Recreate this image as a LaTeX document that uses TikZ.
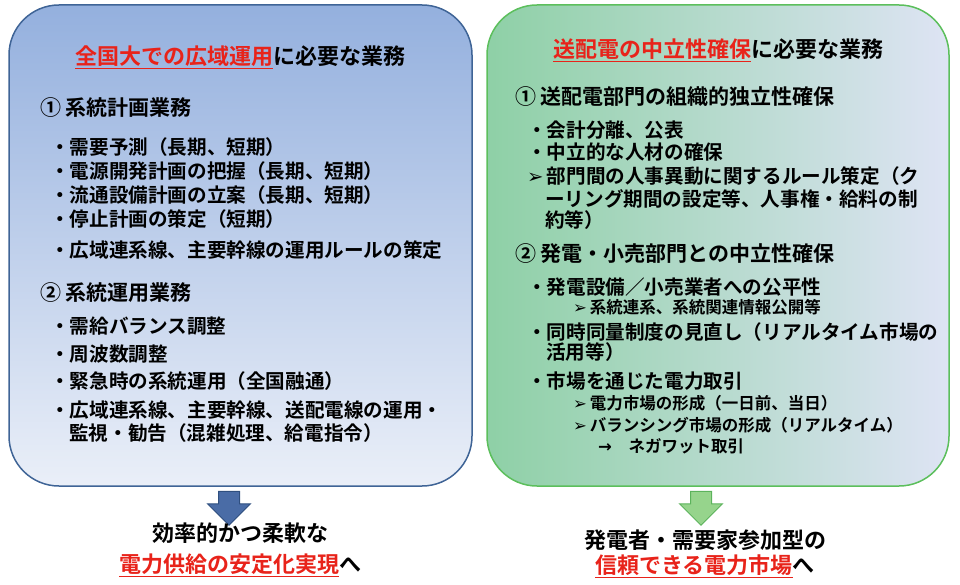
\documentclass[tikz,border=0pt]{standalone}
\usepackage{fontspec}
\setmainfont{Noto Sans CJK JP}[BoldFont={* Bold}]
\newfontfamily\dv{DejaVu Sans}
\usetikzlibrary{shapes.arrows}
\definecolor{rd}{HTML}{E8231A}
\definecolor{lb}{HTML}{3F6496}
\definecolor{gb}{HTML}{5CBF5C}
\newcommand{\rr}[1]{\textcolor{rd}{\underline{#1}}}
\newcommand{\arr}{{\dv\char"27A2}}
\tikzset{
 t/.style={anchor=west,inner sep=0pt,font=\bfseries\fontsize{19.6}{20}\selectfont},
 s/.style={anchor=west,inner sep=0pt,font=\bfseries\fontsize{16.5}{17}\selectfont},
 h/.style={anchor=center,inner sep=0pt,font=\bfseries\fontsize{22}{22}\selectfont},
 sec/.style={anchor=west,inner sep=0pt,font=\bfseries\fontsize{21}{22}\selectfont},
 blk/.style={single arrow,shape border rotate=270,minimum height=34pt,minimum width=20pt,
   single arrow head extend=11pt,inner sep=0pt,text width=20pt,line width=1pt},
}
\begin{document}
\begin{tikzpicture}[x=1pt,y=-1pt]
\useasboundingbox (0,0) rectangle (960,585);
% boxes
\shade[top color={rgb,255:red,148;green,176;blue,222},bottom color={rgb,255:red,234;green,239;blue,248},rounded corners=50pt]
 (9,5) rectangle (472,486);
\draw[lb,line width=1.5pt,rounded corners=50pt] (9,5) rectangle (472,486);
\shade[shading angle=-45,left color={rgb,255:red,142;green,208;blue,166},right color={rgb,255:red,222;green,228;blue,244},rounded corners=50pt]
 (487,5) rectangle (949,486);
\draw[gb,line width=1.5pt,rounded corners=50pt] (487,5) rectangle (949,486);
% arrows
\node[blk,fill={rgb,255:red,74;green,108;blue,166},draw={rgb,255:red,47;green,79;blue,127}] (la) at (229,503) {};
\node[blk,fill={rgb,255:red,150;green,212;blue,140},draw={rgb,255:red,92;green,179;blue,92}] (ra) at (701,503) {};
% left content
\node[h] (lt) at (240,57) {\rr{全国大での広域運用}に必要な業務};
\node[sec] (l1) at (40,108) {① 系統計画業務};
\node[t] (l1a) at (50,147) {・需要予測（長期、短期）};
\node[t] (l1b) at (50,171) {・電源開発計画の把握（長期、短期）};
\node[t] (l1c) at (50,195) {・流通設備計画の立案（長期、短期）};
\node[t] (l1d) at (50,219) {・停止計画の策定（短期）};
\node[t] (l1e) at (50,250) {・広域連系線、主要幹線の運用ルールの策定};
\node[sec] (l2) at (40,293) {② 系統運用業務};
\node[t] (l2a) at (50,326) {・需給バランス調整};
\node[t] (l2b) at (50,354) {・周波数調整};
\node[t] (l2c) at (50,381) {・緊急時の系統運用（全国融通）};
\node[t] (l2d) at (50,410) {・広域連系線、主要幹線、送配電線の運用・};
\node[t] (l2e) at (69,433) {監視・勧告（混雑処理、給電指令）};
% right content
\node[h] (rt) at (718,50) {\rr{送配電の中立性確保}に必要な業務};
\node[sec] (r1) at (515,97) {① 送配電部門の組織的独立性確保};
\node[t] (r1a) at (527,130) {・会計分離、公表};
\node[t] (r1b) at (527,152) {・中立的な人材の確保};
\node[t] (r1c) at (527,176) {\arr\,部門間の人事異動に関するルール策定（ク};
\node[t] (r1d) at (545,199) {ーリング期間の設定等、人事権・給料の制};
\node[t] (r1e) at (545,220) {約等）};
\node[sec] (r2) at (515,254) {② 発電・小売部門との中立性確保};
\node[t] (r2a) at (527,287) {・発電設備／小売業者への公平性};
\node[s] (r2b) at (573,307) {\arr\,系統連系、系統関連情報公開等};
\node[t] (r2c) at (527,332) {・同時同量制度の見直し（リアルタイム市場の};
\node[t] (r2d) at (546,352) {活用等）};
\node[t] (r2e) at (527,381) {・市場を通じた電力取引};
\node[s] (r2f) at (573,403) {\arr\,電力市場の形成（一日前、当日）};
\node[s] (r2g) at (573,425) {\arr\,バランシング市場の形成（リアルタイム）};
\node[s] (r2h) at (598,446) {{\dv →}\quad ネガワット取引};
% bottom text
\node[h] (lb1) at (240,533) {効率的かつ柔軟な};
\node[h] (lb2) at (240,565) {\rr{電力供給の安定化実現}へ};
\node[h] (rb1) at (705,540) {発電者・需要家参加型の};
\node[h] (rb2) at (705,566) {\rr{信頼できる電力市場}へ};
\end{tikzpicture}
\end{document}
